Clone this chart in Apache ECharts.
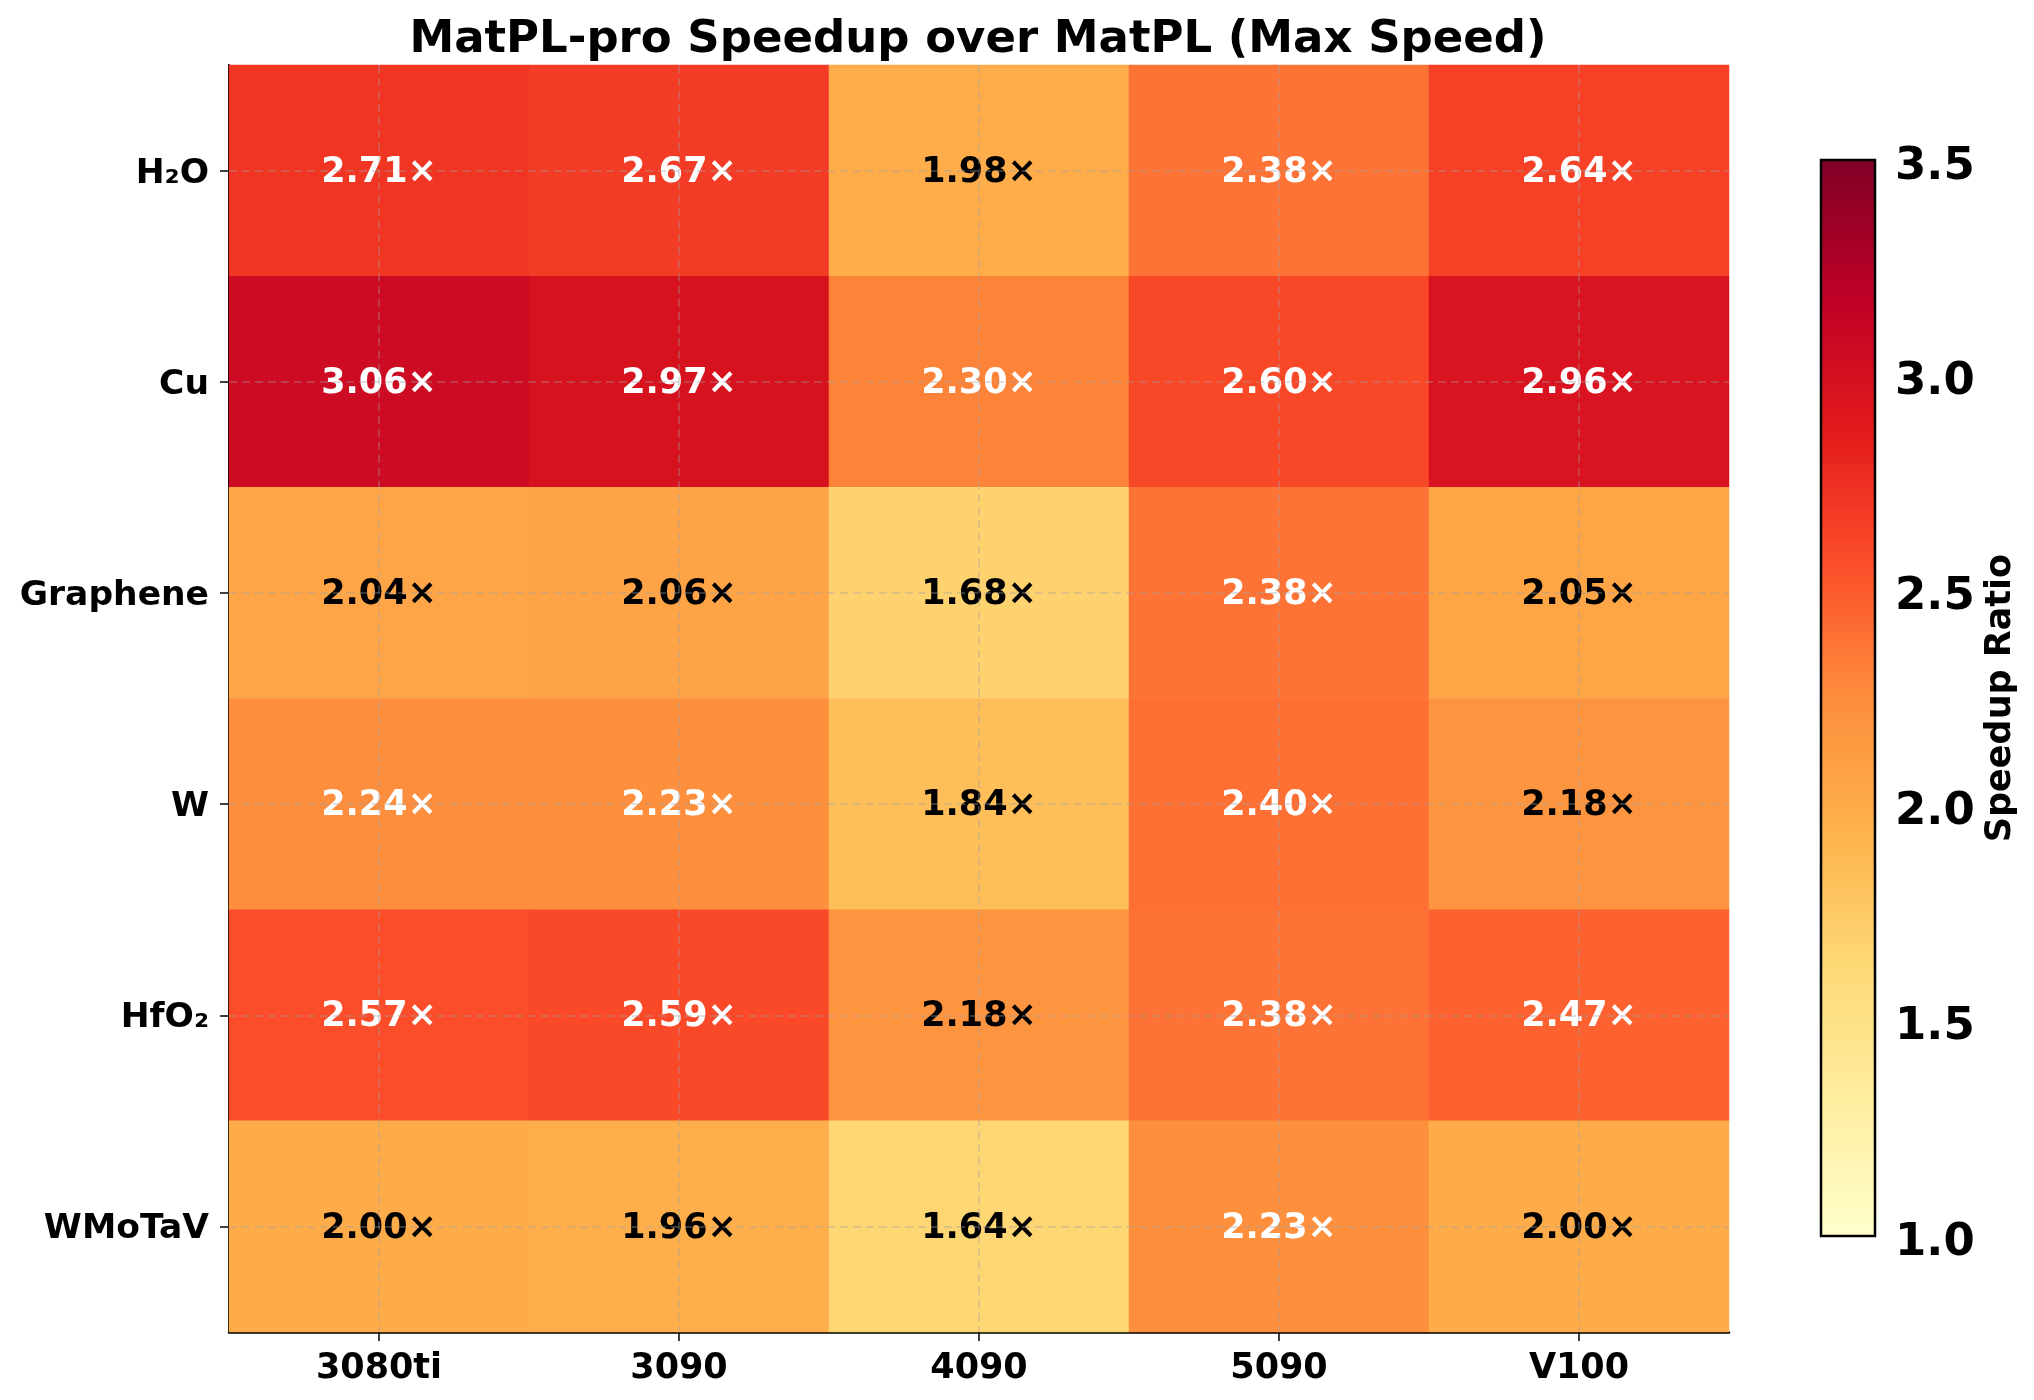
<!DOCTYPE html>
<html>
<head>
<meta charset="utf-8">
<script src="https://cdn.jsdelivr.net/npm/echarts@6/dist/echarts.min.js"></script>
<style>
  html, body { margin: 0; padding: 0; background: #fff; }
  #container { width: 2034px; height: 1400px; }
</style>
</head>
<body>
<div id="container"></div>
<script>
// data
const gpus = ['3080ti', '3090', '4090', '5090', 'V100'];
const systems = ['H₂O', 'Cu', 'Graphene', 'W', 'HfO₂', 'WMoTaV'];
const speedup = [
    [2.71, 2.67, 1.98, 2.38, 2.64],   // H2O
    [3.06, 2.97, 2.30, 2.60, 2.96],   // Cu
    [2.04, 2.06, 1.68, 2.38, 2.05],   // Graphene
    [2.24, 2.23, 1.84, 2.40, 2.18],   // W
    [2.57, 2.59, 2.18, 2.38, 2.47],   // HfO2
    [2.00, 1.96, 1.64, 2.23, 2.00]    // WMoTaV
];
const cbarMin = 1.0;
const cbarMax = 3.5;
const cbarStep = 0.5;

// YlOrRd
const ylOrRd = ['#ffffcc', '#ffeda0', '#fed976', '#feb24c', '#fd8d3c',
                '#fc4e2a', '#e31a1c', '#bd0026', '#800026'];

const font = 'DejaVu Sans';

var cells = [];
for (let r = 0; r < systems.length; r++) {
    for (let c = 0; c < gpus.length; c++) {
        let v = speedup[r][c];
        cells.push({
            value: [c, r, v],
            label: { color: v > 2.2 ? '#ffffff' : '#000000' }
        });
    }
}

var gridLineStyle = { type: [8, 5], color: 'rgba(160,160,160,0.45)', width: 1.5 };
var markLines = [];
gpus.forEach(g => markLines.push({ xAxis: g }));
systems.forEach(s => markLines.push({ yAxis: s }));

var dom = document.getElementById('container');
var myChart = echarts.init(dom, null, { renderer: 'canvas' });

// labels sit a few px low in matplotlib, so the label-only axes use grids shifted down
var option = {
    animation: false,
    backgroundColor: '#ffffff',
    title: {
        text: 'MatPL-pro Speedup over MatPL (Max Speed)',
        left: 973,
        top: 13,
        textAlign: 'center',
        textStyle: { fontFamily: font, fontWeight: 'bold', fontSize: 45, color: '#000' }
    },
    grid: [
        { left: 229, top: 65, width: 1500, height: 1267 },
        { left: 1821, top: 160, width: 54, height: 1076, show: true,
          borderColor: '#000', borderWidth: 2.5, backgroundColor: 'transparent', z: 10 },
        { left: 1821, top: 167, width: 54, height: 1076 },
        { left: 229, top: 68, width: 1500, height: 1267 }
    ],
    xAxis: [{
        type: 'category',
        gridIndex: 0,
        data: gpus,
        axisLine: { show: true, lineStyle: { color: '#000', width: 2.5 } },
        axisTick: { show: true, alignWithLabel: true, length: 9, lineStyle: { color: '#000', width: 1.5 } },
        axisLabel: { fontFamily: font, fontWeight: 'bold', fontSize: 35, color: '#000', margin: 19 },
        splitLine: { show: false }
    },
    { type: 'value', gridIndex: 1, show: false },
    { type: 'value', gridIndex: 2, show: false },
    { type: 'value', gridIndex: 3, show: false }],
    yAxis: [{
        type: 'category',
        gridIndex: 0,
        data: systems,
        inverse: true,
        axisLine: { show: true, lineStyle: { color: '#000', width: 2 } },
        axisTick: { show: true, alignWithLabel: true, length: 9, lineStyle: { color: '#000', width: 1.5 } },
        axisLabel: { show: false },
        splitLine: { show: false }
    }, {
        type: 'value',
        gridIndex: 1,
        position: 'right',
        min: cbarMin,
        max: cbarMax,
        interval: cbarStep,
        name: 'Speedup Ratio',
        nameLocation: 'middle',
        nameRotate: 90,
        nameGap: 108,
        nameTextStyle: { fontFamily: font, fontWeight: 'bold', fontSize: 35, color: '#000' },
        axisLine: { show: false },
        axisTick: { show: true, length: 10, lineStyle: { color: '#000', width: 2 } },
        axisLabel: { show: false },
        splitLine: { show: false }
    }, {
        type: 'value',
        gridIndex: 2,
        position: 'right',
        min: cbarMin,
        max: cbarMax,
        interval: cbarStep,
        axisLine: { show: false },
        axisTick: { show: false },
        axisLabel: {
            fontFamily: font, fontWeight: 'bold', fontSize: 45, color: '#000', margin: 20,
            formatter: v => v.toFixed(1)
        },
        splitLine: { show: false }
    }, {
        type: 'category',
        gridIndex: 3,
        data: systems,
        inverse: true,
        axisLine: { show: false },
        axisTick: { show: false },
        axisLabel: { fontFamily: font, fontWeight: 'bold', fontSize: 34.5, color: '#000', margin: 20 },
        splitLine: { show: false }
    }],
    visualMap: {
        type: 'continuous',
        seriesIndex: 0,
        min: cbarMin,
        max: cbarMax,
        calculable: false,
        hoverLink: false,
        orient: 'vertical',
        left: 1821,
        top: 160,
        padding: 0,
        itemWidth: 54,
        itemHeight: 1076,
        text: null,
        inRange: { color: ylOrRd }
    },
    series: [{
        name: 'Speedup',
        type: 'heatmap',
        xAxisIndex: 0,
        yAxisIndex: 0,
        data: cells,
        label: {
            show: true,
            fontFamily: font,
            fontWeight: 'bold',
            fontSize: 35,
            offset: [0, 2],
            formatter: p => p.value[2].toFixed(2) + '×'
        },
        emphasis: { disabled: true },
        markLine: {
            silent: true,
            symbol: ['none', 'none'],
            label: { show: false },
            lineStyle: gridLineStyle,
            data: markLines
        }
    }]
};

if (option && typeof option === 'object') {
    myChart.setOption(option);
}

window.addEventListener('resize', myChart.resize);
</script>
</body>
</html>
